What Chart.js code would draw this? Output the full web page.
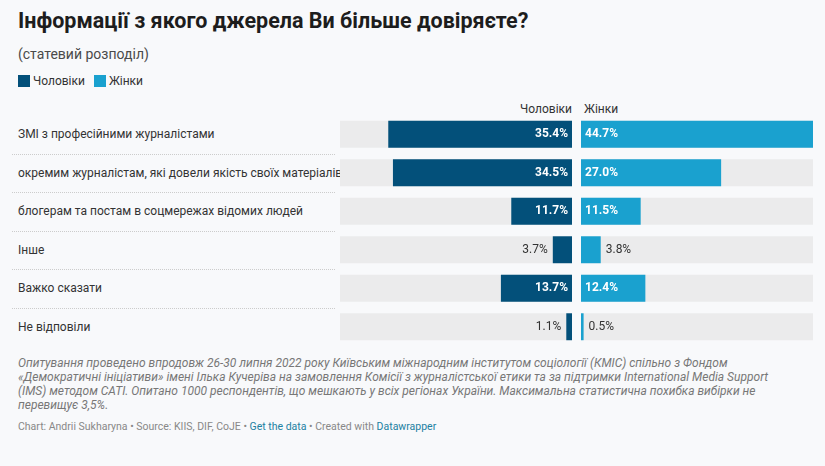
<!DOCTYPE html>
<html>
<head>
<meta charset="utf-8">
<script src="https://cdn.jsdelivr.net/npm/chart.js@4"></script>
<style>
  body { margin: 0; background: #f8f9fb; font-family: Roboto, sans-serif; width: 825px; height: 466px; position: relative; overflow: hidden; }
  .abs { position: absolute; }
  #title { left: 18px; top: 8px; font-size: 21.5px; font-weight: bold; color: #1d1d1d; }
  #subtitle { left: 18px; top: 46px; font-size: 14px; color: #4a4a4a; }
  #legend { left: 18px; top: 74px; font-size: 12px; color: #333; }
  .sw { display: inline-block; width: 12px; height: 12px; vertical-align: -2px; margin-right: 3px; }
  .hdr { top: 102px; font-size: 12px; color: #333; }
  .lbl { left: 18px; font-size: 12px; color: #333; height: 38.5px; line-height: 38.5px; width: 318px; white-space: nowrap; }
  .sep { left: 12px; border-top: 1px dotted #ccc; }
  #notes { left: 18px; top: 356px; width: 765px; font-size: 12px; font-style: italic; color: #777; line-height: 14px; }
  #footer { left: 18px; top: 420px; font-size: 10.5px; color: #888; }
  #footer a { color: #1d81a2; text-decoration: none; }
</style>
</head>
<body>
<div id="title" class="abs">Інформації з якого джерела Ви більше довіряєте?</div>
<div id="subtitle" class="abs">(статевий розподіл)</div>
<div id="legend" class="abs"><span class="sw" style="background:#03507a"></span>Чоловіки &nbsp;&nbsp;<span class="sw" style="background:#1aa1cf"></span>Жінки</div>
<div class="abs hdr" style="right:253px">Чоловіки</div>
<div class="abs hdr" style="left:584px">Жінки</div>
<div id="rows"></div>
<div class="abs" style="left:340px;top:115px;width:232px;height:231px"><canvas id="men"></canvas></div>
<div class="abs" style="left:581px;top:115px;width:232px;height:231px"><canvas id="women"></canvas></div>
<div id="notes" class="abs">Опитування проведено впродовж 26-30 липня 2022 року Київським міжнародним інститутом соціології (КМІС) спільно з Фондом «Демократичні ініціативи» імені Ілька Кучеріва на замовлення Комісії з журналістської етики та за підтримки International Media Support (IMS) методом CATI. Опитано 1000 респондентів, що мешкають у всіх регіонах України. Максимальна статистична похибка вибірки не перевищує 3,5%.</div>
<div id="footer" class="abs">Chart: Andrii Sukharyna • Source: KIIS, DIF, CoJE • <a>Get the data</a> • Created with <a>Datawrapper</a></div>
<script>
const categories = [
  'ЗМІ з професійними журналістами',
  'окремим журналістам, які довели якість своїх матеріалів',
  'блогерам та постам в соцмережах відомих людей',
  'Інше',
  'Важко сказати',
  'Не відповіли'
];
const menValues = [35.4, 34.5, 11.7, 3.7, 13.7, 1.1];
const womenValues = [44.7, 27.0, 11.5, 3.8, 12.4, 0.5];
const scaleMax = 44.7;

const rows = document.getElementById('rows');
categories.forEach((c, i) => {
  const d = document.createElement('div');
  d.className = 'abs lbl';
  d.style.top = (115 + i * 38.5) + 'px';
  d.textContent = c;
  rows.appendChild(d);
  if (i > 0) {
    const s = document.createElement('div');
    s.className = 'abs sep';
    s.style.top = (115 + i * 38.5) + 'px';
    s.style.width = '323px';
    rows.appendChild(s);
  }
});

// value labels: inside the bar (white, bold) when it is wide enough, else beside it
const valueLabels = {
  id: 'valueLabels',
  afterDatasetsDraw(chart) {
    const ctx = chart.ctx;
    const reverse = chart.options.scales.x.reverse;
    const meta = chart.getDatasetMeta(1);
    ctx.save();
    ctx.textBaseline = 'middle';
    meta.data.forEach((bar, i) => {
      const v = chart.data.datasets[1].data[i];
      const txt = v.toFixed(1) + '%';
      const inside = v > 8;
      ctx.font = inside ? 'bold 12px Roboto' : '12px Roboto';
      ctx.fillStyle = inside ? '#fff' : '#333';
      let tx;
      if (reverse) {
        ctx.textAlign = 'right';
        tx = inside ? chart.chartArea.right - 4 : bar.x - 5;
      } else {
        ctx.textAlign = 'left';
        tx = inside ? chart.chartArea.left + 4 : bar.x + 5;
      }
      ctx.fillText(txt, tx, bar.y);
    });
    ctx.restore();
  }
};

function makeChart(id, values, color, reverse) {
  new Chart(document.getElementById(id), {
    type: 'bar',
    data: {
      labels: categories,
      datasets: [
        { data: categories.map(() => scaleMax), backgroundColor: '#ebebec', grouped: false, order: 2 },
        { data: values, backgroundColor: color, grouped: false, order: 1 }
      ]
    },
    options: {
      indexAxis: 'y',
      responsive: true,
      maintainAspectRatio: false,
      animation: false,
      barPercentage: 0.7,
      categoryPercentage: 1,
      layout: { padding: 0 },
      plugins: { legend: { display: false }, tooltip: { enabled: false } },
      scales: {
        x: { display: false, min: 0, max: scaleMax, reverse: reverse },
        y: { display: false }
      }
    },
    plugins: [valueLabels]
  });
}

makeChart('men', menValues, '#03507a', true);
makeChart('women', womenValues, '#1aa1cf', false);
</script>
</body>
</html>
